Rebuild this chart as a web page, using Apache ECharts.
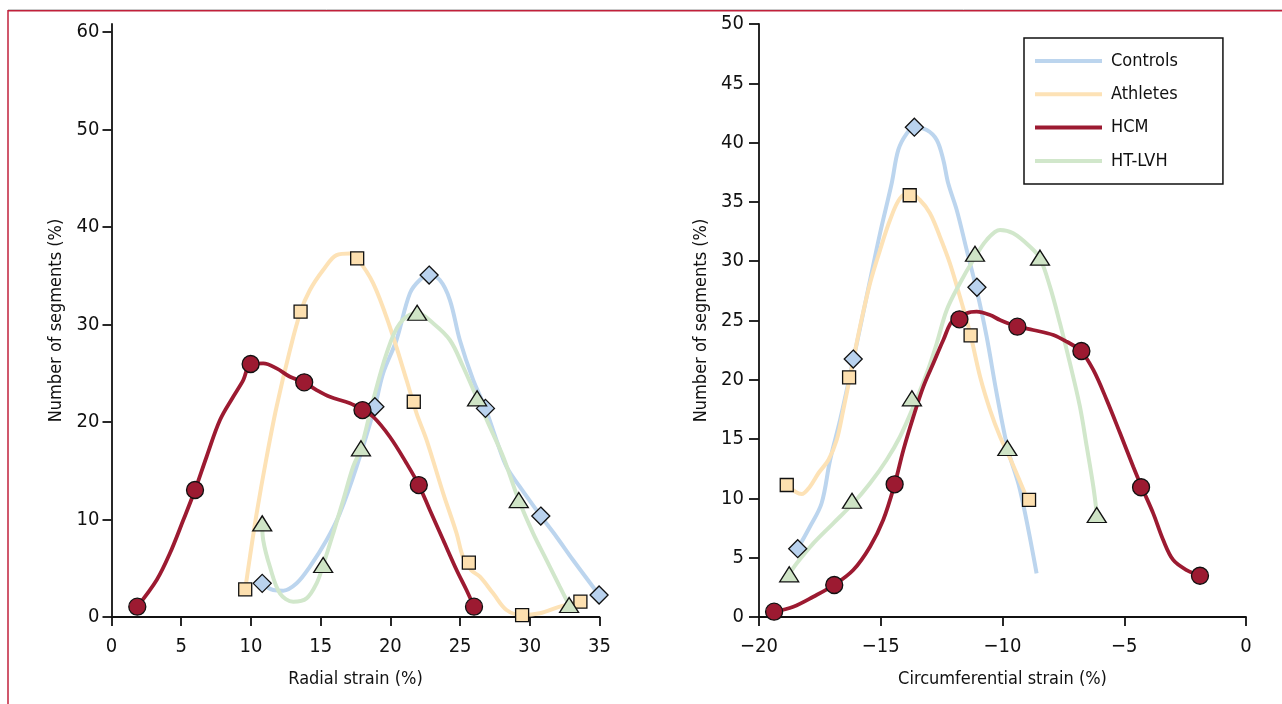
<!DOCTYPE html>
<html>
<head>
<meta charset="utf-8">
<script src="https://cdn.jsdelivr.net/npm/echarts@6/dist/echarts.min.js"></script>
<style>
html,body{margin:0;padding:0;background:#fff;}
#chart{width:1282px;height:704px;}
</style>
</head>
<body>
<div id="chart"></div>
<script>
// ---------- DATA ----------
const seriesNames = ['Controls', 'Athletes', 'HCM', 'HT-LVH'];
const radialYTicks = [0, 10, 20, 30, 40, 50, 60];

// Radial strain (%) – markers [strain, % segments]
const radialControlsPts = [[10.81,3.45],[18.89,21.56],[22.78,35.06],[26.82,21.39],[30.79,10.35],[34.97,2.26]];
const radialAthletesPts = [[9.59,2.84],[13.56,31.30],[17.62,36.77],[21.68,22.07],[25.63,5.57],[29.45,0.2],[33.63,1.57]];
const radialHCMPts = [[1.85,1.06],[5.99,13.02],[9.98,25.94],[13.82,24.06],[18.0,21.22],[22.04,13.53],[26.0,1.06]];
const radialHTPts = [[10.81,9.60],[15.18,5.33],[17.89,17.29],[21.92,31.19],[26.22,22.42],[29.21,11.99],[32.82,1.23]];

// Radial strain – fitted curves
const radialControlsCurve = [[10.81,3.45],[11.6,2.77],[12.32,2.70],[13.28,3.45],[14.23,5.16],[15.43,7.89],[16.38,10.63],[17.58,15.41],[18.89,21.56],[19.48,24.98],[20.44,28.40],[21.40,33.18],[22.11,34.55],[22.78,35.06],[23.55,34.55],[24.27,32.50],[24.98,28.40],[25.94,24.30],[26.82,21.39],[27.61,18.14],[28.33,15.41],[29.28,13.36],[30.79,10.35],[31.91,8.23],[33.10,5.84],[34.97,2.26]];
const radialAthletesCurve = [[9.59,2.84],[9.93,6.18],[10.41,10.63],[11.13,16.43],[11.84,21.56],[12.80,27.37],[13.56,31.30],[14.23,33.52],[15.18,35.57],[16.14,37.11],[17.10,37.28],[17.62,36.77],[18.77,34.21],[19.96,29.76],[21.16,24.30],[21.88,20.88],[22.60,18.14],[23.79,12.68],[24.75,8.58],[25.2,6.2],[25.8,4.8],[26.42,4.13],[27.37,2.43],[28.33,0.72],[29.45,0.2],[30.72,0.38],[32.15,1.06],[33.63,1.57]];
const radialHCMCurve = [[1.85,1.06],[3.24,3.79],[4.19,6.53],[5.15,9.94],[5.99,13.02],[6.82,16.43],[7.78,20.19],[8.73,22.58],[9.45,24.29],[9.98,25.94],[10.88,26.0],[11.84,25.49],[12.80,24.63],[13.82,24.06],[14.71,23.27],[15.66,22.58],[17.10,21.91],[18.0,21.22],[18.77,20.53],[19.96,18.48],[21.16,15.76],[22.04,13.53],[22.83,10.97],[23.79,7.89],[24.75,4.82],[25.46,2.77],[26.0,1.06]];
const radialHTCurve = [[10.81,9.60],[10.88,7.89],[11.36,5.16],[12.08,2.43],[13.03,1.57],[13.99,1.91],[14.71,3.45],[15.18,5.33],[15.90,8.58],[16.62,11.99],[17.33,15.41],[17.89,17.29],[18.77,22.24],[19.73,27.03],[20.68,30.11],[21.92,31.19],[23.07,30.11],[24.27,28.40],[25.22,25.66],[26.22,22.42],[27.13,19.51],[28.09,16.43],[29.21,11.99],[30.24,8.58],[31.20,5.84],[32.15,3.11],[32.82,1.23]];

// Circumferential strain (%) – markers
const circControlsPts = [[-18.41,5.76],[-16.13,21.75],[-13.62,41.3],[-11.05,27.8]];
const circAthletesPts = [[-18.86,11.13],[-16.30,20.2],[-13.81,35.56],[-11.31,23.75],[-8.91,9.87]];
const circHCMPts = [[-19.38,0.45],[-16.91,2.7],[-14.43,11.19],[-11.77,25.1],[-9.39,24.48],[-6.76,22.43],[-4.31,10.94],[-1.89,3.48]];
const circHTPts = [[-18.76,3.6],[-16.18,9.8],[-13.72,18.44],[-11.13,30.63],[-9.8,14.25],[-8.46,30.3],[-6.13,8.6]];

// Circumferential strain – fitted curves
const circControlsCurve = [[-18.41,5.76],[-17.91,7.61],[-17.43,9.59],[-17.08,13.24],[-16.67,16.61],[-16.13,21.67],[-15.58,27.01],[-15.03,32.35],[-14.55,36.57],[-14.28,39.38],[-13.93,40.78],[-13.62,41.29],[-13.11,41.06],[-12.70,40.22],[-12.43,38.53],[-12.23,36.57],[-11.88,34.32],[-11.47,30.94],[-11.06,27.57],[-10.65,23.63],[-10.24,18.86],[-9.77,14.08],[-9.28,10.71],[-8.60,3.68]];
const circAthletesCurve = [[-18.86,11.13],[-18.25,10.37],[-17.91,10.99],[-17.56,12.12],[-17.15,13.24],[-16.81,14.92],[-16.54,17.45],[-16.26,20.26],[-15.85,24.48],[-15.44,28.14],[-15.03,30.94],[-14.62,33.47],[-14.21,35.30],[-13.80,35.72],[-13.39,35.16],[-12.98,34.04],[-12.57,32.07],[-12.16,29.82],[-11.75,27.01],[-11.33,23.92],[-10.92,20.26],[-10.51,17.45],[-10.10,15.20],[-9.69,13.38],[-9.08,10.43]];
const circHCMCurve = [[-19.38,0.45],[-18.59,0.87],[-17.77,1.71],[-16.92,2.70],[-16.13,3.96],[-15.44,5.93],[-14.90,8.18],[-14.43,11.19],[-14.07,14.08],[-13.66,16.89],[-13.25,19.42],[-12.84,21.39],[-12.43,23.36],[-12.02,25.04],[-11.77,25.10],[-11.47,25.61],[-11.06,25.74],[-10.51,25.46],[-10.10,25.04],[-9.39,24.48],[-8.74,24.20],[-7.91,23.78],[-7.36,23.21],[-6.78,22.43],[-6.27,20.83],[-5.72,18.30],[-5.17,15.49],[-4.63,12.67],[-4.28,10.94],[-3.81,8.74],[-3.40,6.49],[-2.99,4.81],[-2.44,3.96],[-1.89,3.48]];
const circHTCurve = [[-18.76,3.60],[-18.45,4.53],[-17.77,6.21],[-16.95,7.90],[-16.13,9.59],[-15.44,11.27],[-14.76,13.24],[-14.21,15.20],[-13.66,17.73],[-13.11,20.55],[-12.70,23.08],[-12.29,25.89],[-11.75,28.14],[-11.20,30.10],[-10.65,31.79],[-10.10,32.63],[-9.56,32.35],[-8.87,31.22],[-8.46,30.24],[-8.05,27.85],[-7.64,24.76],[-7.23,21.39],[-6.82,17.73],[-6.54,14.36],[-6.27,10.99],[-6.13,8.74]];

// ---------- STYLE ----------
const FONT = "'DejaVu Sans Condensed','Liberation Sans Narrow','Liberation Sans',sans-serif";
const INK = '#111';
const lineColors = {Controls:'#bcd5ee', Athletes:'#fde2b6', HCM:'#9c1a31', 'HT-LVH':'#d1e7cb'};
const markFill = {Controls:'#b9d2ee', Athletes:'#fde0b0', HCM:'#9c1a31', 'HT-LVH':'#cfe4c6'};
const markSym = {Controls:'diamond', Athletes:'rect', HCM:'circle', 'HT-LVH':'triangle'};
const markSize = {Controls:18, Athletes:13, HCM:17, 'HT-LVH':[19,15]};

const radialCurves = [radialControlsCurve, radialAthletesCurve, radialHCMCurve, radialHTCurve];
const radialPts = [radialControlsPts, radialAthletesPts, radialHCMPts, radialHTPts];
const circCurves = [circControlsCurve, circAthletesCurve, circHCMCurve, circHTCurve];
const circPts = [circControlsPts, circAthletesPts, circHCMPts, circHTPts];

function minusFmt(v){ return v < 0 ? '\u2212' + Math.abs(v) : String(v); }

function xAxisCfg(grid, min, max, name){
  return {
    gridIndex: grid, type:'value', min:min, max:max, interval:5,
    name:name, nameLocation:'middle', nameGap:53,
    nameTextStyle:{fontSize:18, color:INK, fontFamily:FONT},
    axisLine:{onZero:false, lineStyle:{color:INK, width:1.8}},
    axisTick:{length:9, lineStyle:{color:INK, width:1.8}},
    axisLabel:{fontSize:20, color:INK, margin:20, fontFamily:FONT, formatter:minusFmt},
    splitLine:{show:false}
  };
}

const series = [];
function addSeries(curves, pts, gi){
  seriesNames.forEach((n, i) => {
    series.push({
      type:'line', name:n, xAxisIndex:gi, yAxisIndex:gi, data:curves[i],
      smooth:0.35, showSymbol:false, symbol:'none', silent:true,
      color:lineColors[n],
      lineStyle:{color:lineColors[n], width: n === 'HCM' ? 3.8 : 4},
      itemStyle:{color:lineColors[n]},
      z: n === 'HCM' ? 3 : 2
    });
  });
  seriesNames.forEach((n, i) => {
    series.push({
      type:'scatter', name:n + ' markers', xAxisIndex:gi, yAxisIndex:gi, data:pts[i],
      symbol:markSym[n], symbolSize:markSize[n], silent:true,
      itemStyle:{color:markFill[n], borderColor:INK, borderWidth:1.3, opacity:1},
      z:5
    });
  });
}
addSeries(radialCurves, radialPts, 0);
addSeries(circCurves, circPts, 1);

const option = {
  animation:false,
  backgroundColor:'#fff',
  textStyle:{fontFamily:FONT},
  grid:[
    {left:111.5, top:24, width:488, height:593},
    {left:759, top:24, width:487, height:593}
  ],
  xAxis:[
    xAxisCfg(0, 0, 35, 'Radial strain (%)'),
    xAxisCfg(1, -20, 0, 'Circumferential strain (%)')
  ],
  yAxis:[
    {
      gridIndex:0, type:'value', min:0, max:60.8, interval:10,
      name:'Number of segments (%)', nameLocation:'middle', nameGap:46,
      nameTextStyle:{fontSize:18, color:INK, fontFamily:FONT},
      axisLine:{onZero:false, lineStyle:{color:INK, width:1.8}},
      axisTick:{length:9, customValues:radialYTicks, lineStyle:{color:INK, width:1.8}},
      axisLabel:{fontSize:20, color:INK, margin:12, fontFamily:FONT, customValues:radialYTicks,
        formatter:v => (Math.abs(v % 10) < 1e-9 ? String(v) : '')},
      splitLine:{show:false}
    },
    {
      gridIndex:1, type:'value', min:0, max:50, interval:5,
      name:'Number of segments (%)', nameLocation:'middle', nameGap:49,
      nameTextStyle:{fontSize:18, color:INK, fontFamily:FONT},
      axisLine:{onZero:false, lineStyle:{color:INK, width:1.8}},
      axisTick:{length:10, lineStyle:{color:INK, width:1.8}},
      axisLabel:{fontSize:20, color:INK, margin:15, fontFamily:FONT},
      splitLine:{show:false}
    }
  ],
  legend:{
    data:seriesNames, orient:'vertical', left:1024, top:38,
    itemWidth:67, itemHeight:4, itemGap:15.3, icon:'rect',
    padding:[14,45,14,11], borderColor:INK, borderWidth:1.5,
    selectedMode:false,
    textStyle:{fontSize:18, color:INK, lineHeight:18, fontFamily:FONT, padding:[0,0,0,4]}
  },
  graphic:[
    {type:'line', silent:true, shape:{x1:8, y1:9.5, x2:1282, y2:9.5}, style:{stroke:'#c9c9c9', lineWidth:1}},
    {type:'line', silent:true, shape:{x1:8, y1:10.75, x2:1282, y2:10.75}, style:{stroke:'#c0213b', lineWidth:1.5}},
    {type:'line', silent:true, shape:{x1:8, y1:10, x2:8, y2:704}, style:{stroke:'#c0213b', lineWidth:1.5}}
  ],
  series:series
};

const chart = echarts.init(document.getElementById('chart'), null, {renderer:'canvas'});
chart.setOption(option);
</script>
</body>
</html>
